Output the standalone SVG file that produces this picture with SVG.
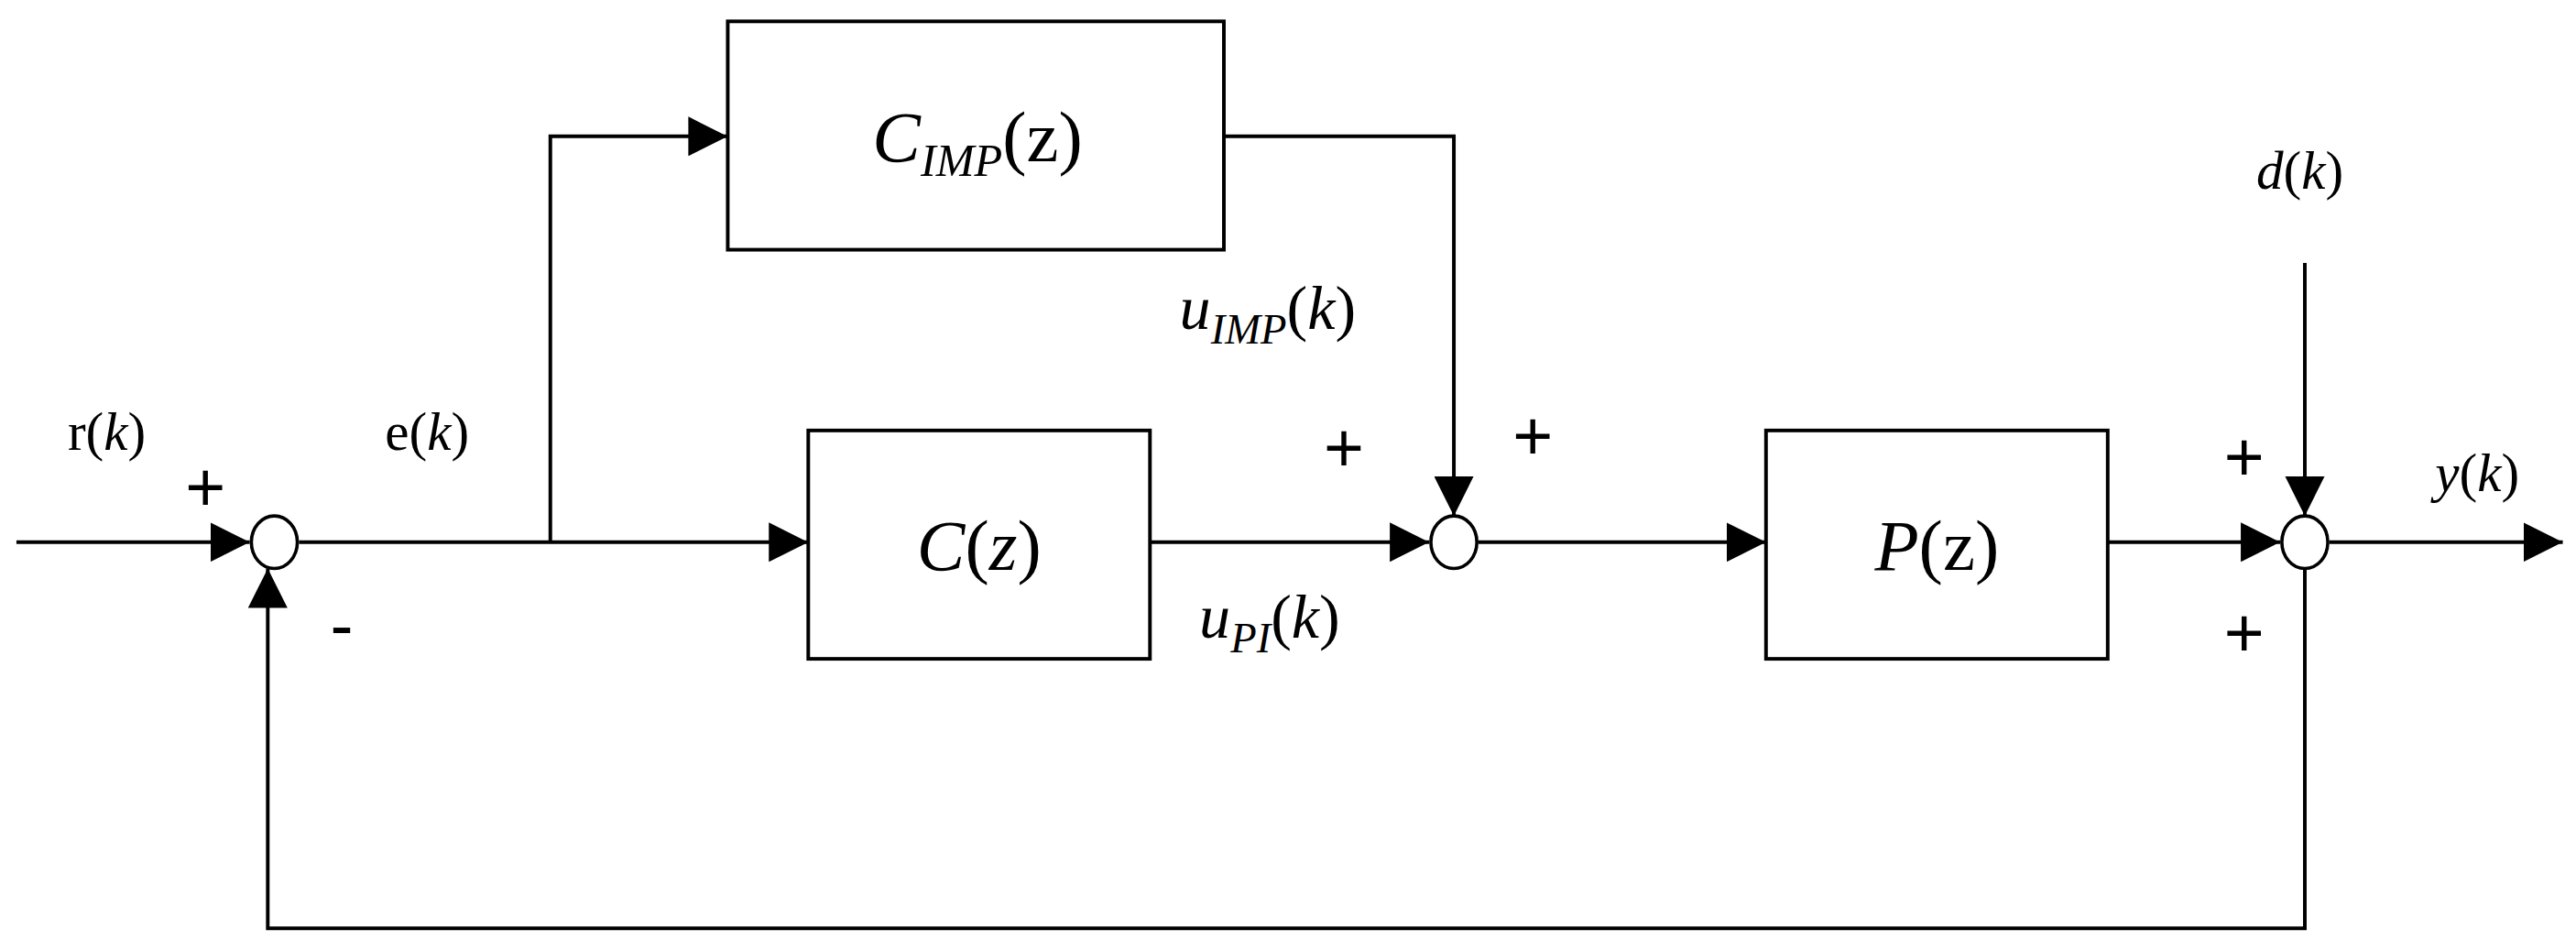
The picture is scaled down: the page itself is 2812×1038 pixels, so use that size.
<svg xmlns="http://www.w3.org/2000/svg" width="2812" height="1038" viewBox="0 0 2812 1038">
<style>
.b{fill:#fff;stroke:#000;stroke-width:2.2}
.l{fill:none;stroke:#000;stroke-width:2.2}
.s{fill:#fff;stroke:#000;stroke-width:2}
text{font-family:"Liberation Serif",serif;fill:#000}
.big{font-size:44px}
.lab{font-size:33px}
.pm{font-family:"Liberation Sans",sans-serif;font-size:42px}
</style>
<defs>
<marker id="A" viewBox="0 0 24 24" refX="24" refY="12" markerWidth="24" markerHeight="24" orient="auto" markerUnits="userSpaceOnUse"><path d="M0,0 L24,12 L0,24 Z"/></marker>
</defs>
<rect width="2812" height="1038" fill="#fff"/>
<g transform="scale(1.7933)">
<g id="connectors">
<path class="l" d="M10,330 H152" marker-end="url(#A)"/>
<path class="l" d="M182,330 H492" marker-end="url(#A)"/>
<path class="l" d="M335,330 V83 H443" marker-end="url(#A)"/>
<path class="l" d="M745,83 H885 V314" marker-end="url(#A)"/>
<path class="l" d="M700,330 H870" marker-end="url(#A)"/>
<path class="l" d="M900,330 H1075" marker-end="url(#A)"/>
<path class="l" d="M1283,330 H1388" marker-end="url(#A)"/>
<path class="l" d="M1418,330 H1560" marker-end="url(#A)"/>
<path class="l" d="M1403,160 V314" marker-end="url(#A)"/>
<path class="l" d="M1403,346 V565 H163 V346" marker-end="url(#A)"/>
</g>
<g id="sum1"><ellipse class="s" cx="167" cy="330" rx="14" ry="16"/></g>
<g id="sum2"><ellipse class="s" cx="885" cy="330" rx="14" ry="16"/></g>
<g id="sum3"><ellipse class="s" cx="1403" cy="330" rx="14" ry="16"/></g>
<g id="cimp"><rect class="b" x="443" y="13" width="302" height="139"/>
<text class="big" x="595" y="98" text-anchor="middle"><tspan font-style="italic">C</tspan><tspan font-style="italic" font-size="28" dy="9">IMP</tspan><tspan dy="-9">(z)</tspan></text></g>
<g id="cz"><rect class="b" x="492" y="262" width="208" height="139"/>
<text class="big" x="596" y="347" text-anchor="middle"><tspan font-style="italic">C</tspan>(<tspan font-style="italic">z</tspan>)</text></g>
<g id="pz"><rect class="b" x="1075" y="262" width="208" height="139"/>
<text class="big" x="1179" y="347" text-anchor="middle"><tspan font-style="italic">P</tspan>(z)</text></g>
<g id="labels">
<text class="lab" x="65" y="274" text-anchor="middle">r(<tspan font-style="italic">k</tspan>)</text>
<text class="lab" x="260" y="274" text-anchor="middle">e(<tspan font-style="italic">k</tspan>)</text>
<text class="lab" x="1400" y="115" text-anchor="middle"><tspan font-style="italic">d</tspan>(<tspan font-style="italic">k</tspan>)</text>
<text class="lab" x="1508" y="299" text-anchor="middle"><tspan font-style="italic">y</tspan>(<tspan font-style="italic">k</tspan>)</text>
<text x="718" y="200"><tspan font-style="italic" font-size="38">u</tspan><tspan font-style="italic" font-size="26" dy="9">IMP</tspan><tspan dy="-9" font-size="38">(<tspan font-style="italic">k</tspan>)</tspan></text>
<text x="730" y="388"><tspan font-style="italic" font-size="38">u</tspan><tspan font-style="italic" font-size="26" dy="9">PI</tspan><tspan dy="-9" font-size="38">(<tspan font-style="italic">k</tspan>)</tspan></text>
<text class="pm" x="125" y="311" text-anchor="middle">+</text>
<text class="pm" x="208" y="395" text-anchor="middle">-</text>
<text class="pm" x="818" y="287" text-anchor="middle">+</text>
<text class="pm" x="933" y="280" text-anchor="middle">+</text>
<text class="pm" x="1366" y="293" text-anchor="middle">+</text>
<text class="pm" x="1366" y="400" text-anchor="middle">+</text>
</g>
</g>
</svg>
